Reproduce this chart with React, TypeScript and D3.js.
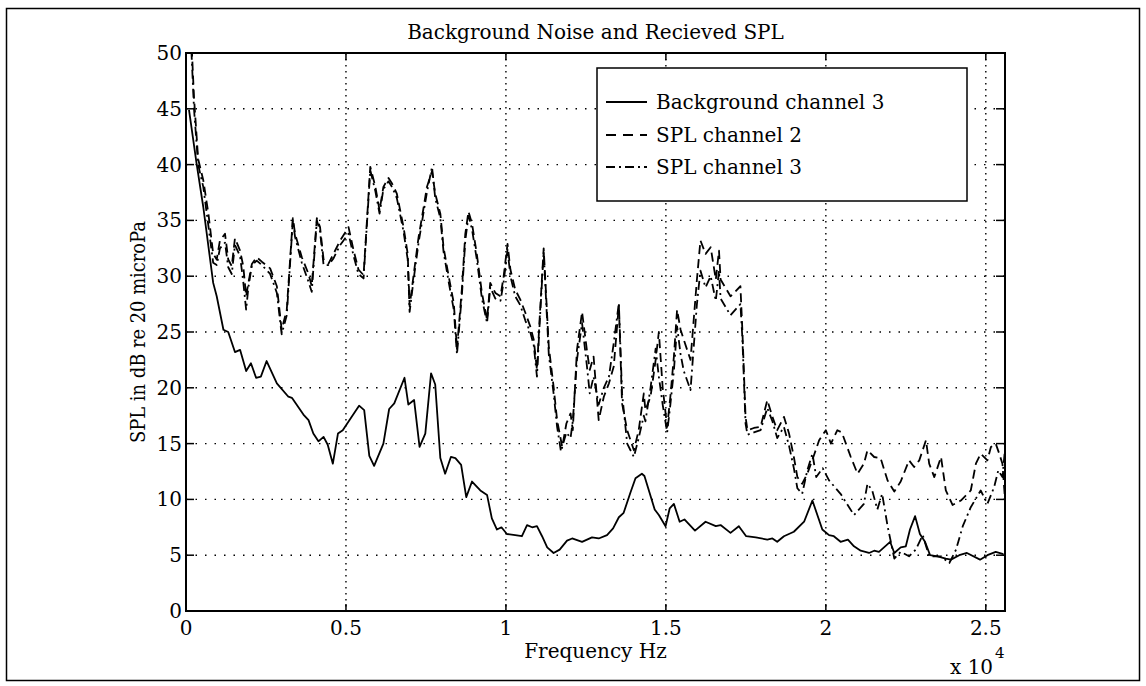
import React from "react";
import * as d3 from "d3";

// ---------- data ----------
const titleText = "Background Noise and Recieved SPL";
const xLabel = "Frequency Hz";
const yLabel = "SPL in dB re 20 microPa";
const xTicks = [0, 5000, 10000, 15000, 20000, 25000];
const xTickLabels = ["0", "0.5", "1", "1.5", "2", "2.5"];
const yTicks = [0, 5, 10, 15, 20, 25, 30, 35, 40, 45, 50];
const legendLabels = ["Background channel 3", "SPL channel 2", "SPL channel 3"];

const bgFreq = [94, 330, 540, 850, 960, 1170, 1320, 1530, 1690, 1880, 2030, 2190, 2340, 2520, 2840, 3200, 3310, 3670, 3830, 3980, 4140, 4300, 4430, 4590, 4750, 4900, 5180, 5410, 5570, 5730, 5880, 6170, 6350, 6510, 6830, 6950, 7130, 7300, 7480, 7660, 7790, 7950, 8100, 8280, 8420, 8600, 8760, 8940, 9200, 9410, 9560, 9720, 9860, 10030, 10290, 10500, 10660, 10820, 10970, 11130, 11290, 11490, 11680, 11910, 12070, 12380, 12690, 12900, 13160, 13350, 13530, 13680, 13890, 14050, 14250, 14330, 14650, 14780, 14990, 15120, 15250, 15430, 15580, 15910, 16240, 16560, 16710, 17020, 17280, 17510, 17810, 18170, 18330, 18480, 18690, 19000, 19320, 19580, 19890, 20100, 20250, 20460, 20690, 20880, 21090, 21350, 21510, 21660, 22010, 22140, 22340, 22500, 22630, 22790, 22940, 23100, 23260, 23490, 23750, 23910, 24170, 24410, 24820, 25050, 25310, 25550];
const bgVal = [44.9, 40.1, 36.2, 29.4, 28.2, 25.2, 25.0, 23.2, 23.4, 21.5, 22.2, 20.9, 21.0, 22.4, 20.4, 19.2, 19.1, 17.6, 17.1, 15.9, 15.2, 15.6, 14.9, 13.2, 15.9, 16.2, 17.4, 18.4, 18.0, 13.9, 13.0, 15.0, 18.1, 18.6, 20.9, 18.5, 18.9, 14.7, 15.9, 21.3, 20.3, 13.7, 12.3, 13.8, 13.7, 13.1, 10.2, 11.6, 10.8, 10.4, 8.3, 7.3, 7.5, 6.9, 6.8, 6.7, 7.7, 7.5, 7.6, 6.7, 5.7, 5.2, 5.5, 6.3, 6.5, 6.2, 6.6, 6.5, 6.8, 7.4, 8.4, 8.8, 10.6, 11.9, 12.3, 12.1, 9.1, 8.6, 7.6, 9.2, 9.6, 8.0, 8.2, 7.2, 8.0, 7.6, 7.7, 7.0, 7.6, 6.7, 6.6, 6.4, 6.5, 6.2, 6.7, 7.1, 8.0, 9.9, 7.3, 6.8, 6.7, 6.2, 6.4, 5.8, 5.4, 5.2, 5.4, 5.3, 6.2, 5.2, 5.7, 5.8, 7.3, 8.5, 6.9, 6.2, 5.0, 4.9, 4.7, 4.6, 5.0, 5.2, 4.6, 5.0, 5.3, 5.1];

const ch2Freq = [63, 250, 380, 540, 700, 850, 960, 1060, 1220, 1320, 1430, 1530, 1690, 1790, 1880, 1950, 2060, 2210, 2370, 2630, 2840, 2990, 3150, 3340, 3410, 3620, 3830, 3930, 4090, 4190, 4300, 4450, 4610, 4820, 5080, 5240, 5390, 5550, 5760, 5920, 6050, 6170, 6330, 6440, 6590, 6800, 6930, 6990, 7110, 7270, 7430, 7530, 7690, 7790, 7950, 8050, 8210, 8370, 8470, 8630, 8730, 8830, 8940, 9090, 9250, 9410, 9510, 9670, 9830, 9930, 10050, 10140, 10290, 10450, 10610, 10760, 10870, 10970, 11050, 11180, 11340, 11490, 11600, 11760, 11890, 12020, 12090, 12220, 12380, 12530, 12620, 12740, 12900, 13060, 13220, 13370, 13530, 13630, 13790, 14000, 14150, 14310, 14360, 14520, 14680, 14780, 14900, 15040, 15140, 15250, 15350, 15460, 15560, 15770, 15970, 16080, 16240, 16400, 16560, 16660, 16710, 17020, 17330, 17390, 17490, 17550, 17750, 17960, 18170, 18330, 18480, 18690, 18850, 19000, 19110, 19260, 19420, 19610, 19790, 20000, 20160, 20360, 20500, 20780, 20990, 21190, 21300, 21510, 21710, 21930, 22140, 22340, 22600, 22760, 22920, 23130, 23230, 23390, 23600, 23750, 23960, 24220, 24530, 24690, 24840, 25050, 25160, 25310, 25420, 25520, 25600];
const ch2Val = [58, 46, 40.5, 38.6, 35.6, 32.0, 31.5, 33.2, 33.8, 31.5, 30.9, 33.4, 32.3, 30.9, 28.2, 29.4, 31.1, 31.7, 31.3, 30.7, 29.1, 25.2, 27.0, 35.2, 33.8, 31.7, 30.2, 29.1, 35.2, 34.4, 31.5, 31.1, 32.0, 33.2, 34.4, 32.3, 30.6, 30.1, 39.8, 38.0, 35.9, 38.0, 38.8, 38.3, 37.4, 34.4, 32.0, 27.3, 30.0, 33.5, 36.2, 38.0, 39.4, 37.4, 35.6, 32.6, 30.0, 27.6, 23.5, 29.1, 33.8, 35.8, 34.7, 32.0, 28.5, 26.1, 29.4, 28.5, 28.2, 30.0, 32.9, 30.6, 28.8, 27.9, 26.7, 25.5, 24.3, 21.6, 26.0, 32.5, 23.7, 20.1, 17.1, 14.7, 16.8, 17.7, 16.2, 23.4, 26.8, 23.4, 21.6, 22.8, 17.1, 19.2, 20.4, 21.9, 27.4, 18.6, 16.2, 14.4, 16.2, 19.5, 18.0, 19.2, 22.5, 25.0, 20.0, 16.5, 19.2, 22.8, 27.0, 25.2, 24.3, 22.5, 29.7, 33.2, 32.0, 32.6, 29.7, 32.3, 29.7, 28.2, 29.1, 25.2, 17.4, 16.2, 16.4, 16.5, 18.9, 17.4, 16.2, 17.4, 15.9, 13.8, 12.0, 11.4, 12.3, 13.8, 15.3, 16.2, 15.0, 16.2, 16.0, 13.8, 12.3, 13.2, 14.4, 13.8, 13.7, 11.7, 10.7, 11.6, 13.5, 12.9, 13.5, 15.3, 13.2, 12.0, 13.8, 10.8, 9.5, 9.9, 10.8, 13.2, 14.1, 13.5, 14.7, 15.0, 14.1, 13.2, 10.0];

const ch3Freq = [63, 250, 380, 540, 700, 850, 960, 1060, 1220, 1320, 1430, 1530, 1690, 1790, 1880, 1950, 2060, 2210, 2370, 2630, 2840, 2990, 3150, 3340, 3410, 3620, 3830, 3930, 4090, 4190, 4300, 4450, 4610, 4820, 5080, 5240, 5390, 5550, 5760, 5920, 6050, 6170, 6330, 6440, 6590, 6800, 6930, 6990, 7110, 7270, 7430, 7530, 7690, 7790, 7950, 8050, 8210, 8370, 8470, 8630, 8730, 8830, 8940, 9090, 9250, 9410, 9510, 9670, 9830, 9930, 10050, 10140, 10290, 10450, 10610, 10760, 10870, 10970, 11050, 11180, 11340, 11490, 11600, 11720, 11890, 12020, 12090, 12220, 12380, 12530, 12620, 12740, 12900, 13060, 13220, 13370, 13530, 13630, 13790, 14000, 14150, 14310, 14360, 14520, 14680, 14780, 14900, 15040, 15140, 15250, 15350, 15460, 15560, 15770, 15970, 16080, 16240, 16400, 16560, 16660, 16710, 17020, 17330, 17390, 17490, 17550, 17750, 17960, 18170, 18330, 18480, 18690, 18850, 19000, 19110, 19260, 19420, 19580, 19700, 19900, 20100, 20460, 20880, 21190, 21300, 21450, 21610, 21760, 21930, 22140, 22340, 22600, 22810, 23030, 23230, 23600, 23860, 24070, 24280, 24530, 24840, 25050, 25260, 25390, 25520, 25600];
const ch3Val = [57, 45, 40, 38, 34.5, 31.2, 31.0, 32.5, 33.0, 30.8, 30.2, 32.8, 31.8, 29.5, 27.0, 29.0, 31.0, 31.4, 31.0, 30.2, 28.5, 24.8, 26.5, 35.0, 33.5, 31.2, 29.5, 28.6, 35.0, 34.0, 31.0, 31.0, 31.6, 32.8, 33.8, 31.8, 30.2, 29.8, 39.5, 37.6, 35.6, 37.8, 38.5, 38.0, 37.0, 34.0, 31.5, 26.8, 29.6, 33.0, 35.8, 37.5, 39.8, 37.0, 35.2, 32.2, 29.5, 27.0, 23.0, 28.6, 33.2, 35.4, 34.2, 31.5, 28.0, 25.8, 29.0, 28.0, 27.8, 29.5, 32.4, 30.0, 28.2, 27.4, 26.0, 25.0, 23.8, 21.0, 25.5, 32.2, 23.0, 19.5, 16.5, 14.3, 16.0, 15.5, 17.0, 22.5, 25.8, 22.0, 19.5, 21.0, 18.5, 20.0, 21.0, 24.0, 27.6, 19.5, 15.0, 13.8, 15.5, 17.5, 17.0, 20.0, 23.5, 21.0, 18.5, 16.0, 18.5, 21.5, 25.5, 23.0, 21.5, 19.8, 27.5, 30.5, 29.0, 30.0, 27.8, 30.5, 28.0, 26.5, 27.5, 24.5, 16.8, 15.8, 16.0, 16.2, 18.2, 17.0, 15.5, 16.5, 14.8, 12.8, 11.0, 10.5, 12.6, 14.1, 12.0, 12.8, 11.7, 10.5, 8.6, 9.6, 11.4, 10.8, 9.1, 10.5, 7.6, 4.7, 5.3, 4.9, 5.5, 6.8, 4.9, 4.9, 4.3, 5.5, 7.6, 9.3, 10.8, 9.6, 11.1, 12.6, 12.0, 14.5];

// ---------- component ----------
const W = 1146;
const H = 686;
const plot = { left: 186, right: 1005, top: 53, bottom: 611 };
const FONT = "'DejaVu Serif', 'Liberation Serif', serif";

export default function App() {
  const x = d3.scaleLinear().domain([0, 25600]).range([plot.left, plot.right]);
  const y = d3.scaleLinear().domain([0, 50]).range([plot.bottom, plot.top]);

  const mk = (fs: number[], vs: number[]) =>
    d3
      .line<number>()
      .x((_, i) => x(fs[i]))
      .y((v) => y(v))(vs) || "";

  const series = [
    { d: mk(bgFreq, bgVal), dash: undefined as string | undefined, w: 1.8 },
    { d: mk(ch2Freq, ch2Val), dash: "9,5", w: 1.8 },
    { d: mk(ch3Freq, ch3Val), dash: "9,4,2,4", w: 1.8 },
  ];

  const legendRows = [102, 135, 167];
  const legendDash = [undefined, "10,7", "9,4,2,4"];

  return (
    <svg
      width={W}
      height={H}
      style={{ position: "absolute", left: 0, top: 0, background: "#fff" }}
      fontFamily={FONT}
    >
      <rect x={0} y={0} width={W} height={H} fill="#fff" />
      {/* outer frame */}
      <rect x={6.5} y={8.5} width={1133} height={672} fill="none" stroke="#000" strokeWidth={1.5} />

      <defs>
        <clipPath id="plotclip">
          <rect x={plot.left} y={plot.top} width={plot.right - plot.left} height={plot.bottom - plot.top} />
        </clipPath>
      </defs>

      {/* grid */}
      {xTicks.slice(1).map((t) => (
        <line
          key={"gx" + t}
          x1={x(t)}
          x2={x(t)}
          y1={plot.top}
          y2={plot.bottom}
          stroke="#000"
          strokeWidth={1.4}
          strokeDasharray="1.5,4.5"
        />
      ))}
      {yTicks.slice(1, -1).map((t) => (
        <line
          key={"gy" + t}
          x1={plot.left}
          x2={plot.right}
          y1={y(t)}
          y2={y(t)}
          stroke="#000"
          strokeWidth={1.4}
          strokeDasharray="1.5,8"
        />
      ))}

      {/* data */}
      <g clipPath="url(#plotclip)">
        {series.map((s, i) => (
          <path
            key={i}
            d={s.d}
            fill="none"
            stroke="#000"
            strokeWidth={s.w}
            strokeDasharray={s.dash}
            strokeLinejoin="round"
          />
        ))}
      </g>

      {/* axes box */}
      <rect
        x={plot.left}
        y={plot.top}
        width={plot.right - plot.left}
        height={plot.bottom - plot.top}
        fill="none"
        stroke="#000"
        strokeWidth={2}
      />
      {xTicks.map((t) => (
        <g key={"tx" + t}>
          <line x1={x(t)} x2={x(t)} y1={plot.bottom} y2={plot.bottom - 7} stroke="#000" strokeWidth={1.5} />
          <line x1={x(t)} x2={x(t)} y1={plot.top} y2={plot.top + 7} stroke="#000" strokeWidth={1.5} />
        </g>
      ))}
      {yTicks.map((t) => (
        <g key={"ty" + t}>
          <line x1={plot.left} x2={plot.left + 8} y1={y(t)} y2={y(t)} stroke="#000" strokeWidth={1.5} />
          <line x1={plot.right} x2={plot.right - 9} y1={y(t)} y2={y(t)} stroke="#000" strokeWidth={1.5} />
        </g>
      ))}

      {/* tick labels */}
      {xTicks.map((t, i) => (
        <text key={"lx" + t} x={x(t)} y={628} textAnchor="middle" dominantBaseline="central" fontSize={20}>
          {xTickLabels[i]}
        </text>
      ))}
      {yTicks.map((t) => (
        <text key={"ly" + t} x={182} y={y(t)} textAnchor="end" dominantBaseline="central" fontSize={20}>
          {t}
        </text>
      ))}

      {/* title and labels */}
      <text x={(plot.left + plot.right) / 2} y={32} textAnchor="middle" dominantBaseline="central" fontSize={20}>
        {titleText}
      </text>
      <text x={(plot.left + plot.right) / 2} y={651} textAnchor="middle" dominantBaseline="central" fontSize={20}>
        {xLabel}
      </text>
      <text
        transform={`translate(138, ${(plot.top + plot.bottom) / 2}) rotate(-90)`}
        textAnchor="middle"
        dominantBaseline="central"
        fontSize={20}
        textLength={222}
        lengthAdjust="spacingAndGlyphs"
      >
        {yLabel}
      </text>
      <text x={950} y={667} dominantBaseline="central" fontSize={20}>
        x 10
      </text>
      <text x={995} y={653} dominantBaseline="central" fontSize={15}>
        4
      </text>

      {/* legend */}
      <rect x={597} y={68} width={370} height={133} fill="#fff" stroke="#000" strokeWidth={1.5} />
      {legendLabels.map((lab, i) => (
        <g key={lab}>
          <line
            x1={606}
            x2={647}
            y1={legendRows[i]}
            y2={legendRows[i]}
            stroke="#000"
            strokeWidth={1.8}
            strokeDasharray={legendDash[i]}
          />
          <text x={656} y={legendRows[i]} dominantBaseline="central" fontSize={20}>
            {lab}
          </text>
        </g>
      ))}
    </svg>
  );
}
